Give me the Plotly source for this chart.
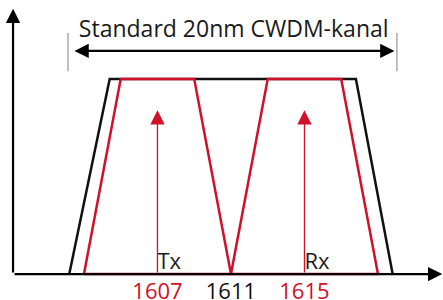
import plotly.graph_objects as go

RED = "#d0112b"
BLACK = "#111111"

# Channel shapes (wavelength in nm, relative power)
black_x = [1602.2, 1604.4, 1617.8, 1619.8]
black_y = [0, 1, 1, 0]
red_x = [1603, 1605, 1609, 1611, 1613, 1617, 1619, 1603]
red_y = [0, 1, 1, 0, 1, 1, 0, 0]

# Carrier wavelengths
tx_rx_wl = [1607, 1615]
tx_rx_labels = ["Tx", "Rx"]
carrier_height = 0.84

tick_vals = [1607, 1611, 1615]
tick_text = ["1607", "1611", "1615"]
tick_colors = [RED, BLACK, RED]

title_text = "Standard 20nm CWDM-kanal"
span_ends = [1602.4, 1619.9]
bracket_x = [1602.13, 1620.03]

origin = [1599.14, 0]
x_end = 1622.5
y_end = 1.36

FONT = "Open Sans"

fig = go.Figure()

fig.add_trace(go.Scatter(x=black_x, y=black_y, mode="lines",
                         line=dict(color=BLACK, width=2.5), hoverinfo="skip"))
fig.add_trace(go.Scatter(x=red_x, y=red_y, mode="lines",
                         line=dict(color=RED, width=2.5), hoverinfo="skip"))

# tick-like labels under the axis
fig.add_trace(go.Scatter(x=tick_vals, y=[-0.1] * 3, mode="text", text=tick_text,
                         textfont=dict(family=FONT, size=22, color=tick_colors),
                         textposition="middle center", hoverinfo="skip"))
# Tx / Rx labels
fig.add_trace(go.Scatter(x=tx_rx_wl, y=[0.055] * 2, mode="text", text=tx_rx_labels,
                         textfont=dict(family=FONT, size=22, color="#1a1a1a"),
                         textposition="middle right", hoverinfo="skip"))
# title text
fig.add_trace(go.Scatter(x=[sum(span_ends) / 2], y=[1.245], mode="text", text=[title_text],
                         textfont=dict(family=FONT, size=23, color="#1a1a1a"),
                         textposition="middle center", hoverinfo="skip"))
# gray bracket lines
for bx in bracket_x:
    fig.add_trace(go.Scatter(x=[bx, bx], y=[1.04, 1.236], mode="lines",
                             line=dict(color="#aaaaaa", width=1.5), hoverinfo="skip"))

annotations = []
# axes arrows
annotations.append(dict(x=origin[0], y=y_end, ax=origin[0], ay=origin[1],
                        xref="x", yref="y", axref="x", ayref="y", text="",
                        showarrow=True, arrowhead=2, arrowsize=1.3, arrowwidth=2.2,
                        arrowcolor="black"))
annotations.append(dict(x=x_end, y=origin[1], ax=origin[0], ay=origin[1],
                        xref="x", yref="y", axref="x", ayref="y", text="",
                        showarrow=True, arrowhead=2, arrowsize=1.3, arrowwidth=2.2,
                        arrowcolor="black"))
# carrier arrows
for wl in tx_rx_wl:
    annotations.append(dict(x=wl, y=carrier_height, ax=wl, ay=0,
                            xref="x", yref="y", axref="x", ayref="y", text="",
                            showarrow=True, arrowhead=2, arrowsize=2.2, arrowwidth=1.3,
                            arrowcolor=RED))
# double arrow
annotations.append(dict(x=span_ends[1], y=1.144, ax=span_ends[0], ay=1.144,
                        xref="x", yref="y", axref="x", ayref="y", text="",
                        showarrow=True, arrowhead=2, startarrowhead=2, arrowside="end+start",
                        arrowsize=1.3, startarrowsize=1.3, arrowwidth=2.2, arrowcolor="black"))

fig.update_layout(
    width=443, height=300,
    margin=dict(l=0, r=0, t=0, b=0),
    paper_bgcolor="white", plot_bgcolor="white",
    showlegend=False,
    xaxis=dict(range=[1598.43, 1622.54], visible=False, fixedrange=True),
    yaxis=dict(range=[-0.133, 1.405], visible=False, fixedrange=True),
    annotations=annotations,
)

fig.write_html("out.html", config={"displayModeBar": False},
               post_script="document.body.style.margin='0';document.body.style.overflow='hidden';")
